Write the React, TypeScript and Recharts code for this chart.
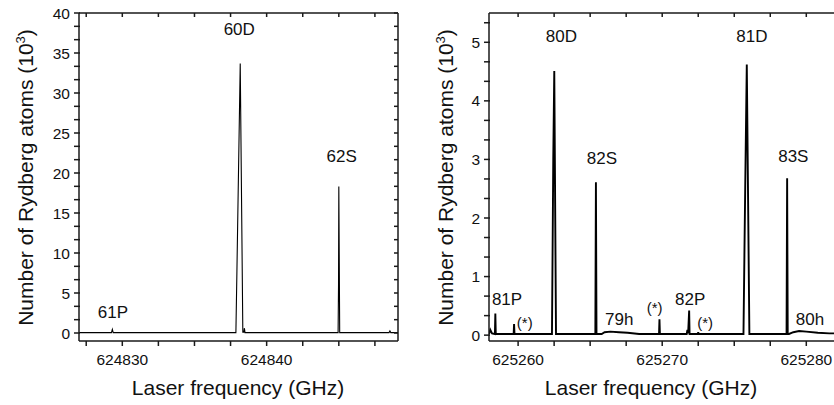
import { LineChart, Line, XAxis, YAxis, ReferenceDot, ReferenceLine } from "recharts";

const FONT = '"Liberation Sans", Arial, Helvetica, sans-serif';
const INK = "#111";
const FRAME = "#1a1a1a";

// ── left panel: 60D / 62S scan ──────────────────────────────────────────────
const LEFT_FREQ = [
  624827.0, 624829.25, 624829.31, 624829.37, 624837.87, 624837.94, 624838.17, 624838.35, 624838.42,
  624838.46, 624838.5, 624844.95, 624844.98, 624845.0, 624845.06, 624848.48, 624848.54, 624848.6, 624849.1,
];
const LEFT_ATOMS = [
  0.05, 0.05, 0.45, 0.05, 0.05, 7.7, 33.7, 0.1, 0.1, 0.6, 0.05, 0.05, 6, 18.3, 0.05, 0.05, 0.25, 0.05, 0.05,
];
const LEFT_X_TICKS = [624827.5, 624830, 624832.5, 624835, 624837.5, 624840, 624842.5, 624845, 624847.5];
const LEFT_X_MAJOR = [624830, 624840];
const LEFT_Y_MAJOR = [0, 5, 10, 15, 20, 25, 30, 35, 40];
const LEFT_NOTES = [
  { text: "61P", x: 624829.35, y: 1.84 },
  { text: "60D", x: 624838.1, y: 37.2 },
  { text: "62S", x: 624845.2, y: 21.4 },
];

// ── right panel: 80D … 83S scan ─────────────────────────────────────────────
const RIGHT_FREQ = [
  625257.98, 625258.07, 625258.19, 625258.39, 625258.42, 625258.45, 625259.69, 625259.72, 625259.75,
  625262.35, 625262.44, 625262.51, 625262.63, 625265.36, 625265.4, 625265.44, 625265.8, 625266.0,
  625266.4, 625267.0, 625267.6, 625268.4, 625269.78, 625269.81, 625269.84, 625271.7, 625271.75,
  625271.8, 625271.87, 625271.9, 625272.47, 625272.5, 625272.53, 625275.64, 625275.76, 625275.87,
  625276.05, 625278.63, 625278.67, 625278.71, 625278.8, 625279.1, 625279.5, 625280.0, 625280.8,
  625281.6, 625282.2,
];
const RIGHT_ATOMS = [
  0.02, 0.09, 0.03, 0.02, 0.37, 0.02, 0.02, 0.19, 0.02,
  0.02, 3.0, 4.51, 0.02, 0.02, 2.61, 0.02, 0.02, 0.05,
  0.06, 0.05, 0.04, 0.02, 0.02, 0.27, 0.02, 0.02, 0.09,
  0.03, 0.42, 0.02, 0.02, 0.05, 0.02, 0.02, 2.5, 4.62,
  0.02, 0.02, 2.68, 0.02, 0.02, 0.05, 0.07, 0.06, 0.04,
  0.03, 0.03,
];
const RIGHT_X_TICKS = [625260, 625262.5, 625265, 625267.5, 625270, 625272.5, 625275, 625277.5, 625280];
const RIGHT_X_MAJOR = [625260, 625270, 625280];
const RIGHT_Y_MAJOR = [0, 1, 2, 3, 4, 5];
const RIGHT_NOTES = [
  { text: "81P", x: 625259.23, y: 0.51 },
  { text: "(*)", x: 625260.46, y: 0.12, small: true },
  { text: "80D", x: 625263.0, y: 5.0 },
  { text: "82S", x: 625265.82, y: 2.93 },
  { text: "79h", x: 625267.02, y: 0.18 },
  { text: "(*)", x: 625269.48, y: 0.38, small: true },
  { text: "82P", x: 625271.94, y: 0.51 },
  { text: "(*)", x: 625272.98, y: 0.12, small: true },
  { text: "81D", x: 625276.22, y: 5.01 },
  { text: "83S", x: 625279.1, y: 2.96 },
  { text: "80h", x: 625280.26, y: 0.17 },
];

const rows = (f: number[], a: number[]) => f.map((x, i) => ({ x, y: a[i] }));

// majors plus evenly split minor ticks, clipped to the axis range
function withMinor(major: number[], parts: number, lo: number, hi: number) {
  const step = (major[1] - major[0]) / parts;
  const out: number[] = [];
  for (let i = -parts; i <= (major.length - 1) * parts + parts; i++) {
    const v = Number((major[0] + i * step).toFixed(6));
    if (v >= lo && v <= hi) out.push(v);
  }
  return out;
}

const isMajor = (major: number[], v: number) => major.some((m) => Math.abs(m - v) < 1e-6);

type Note = { text: string; x: number; y: number; small?: boolean };

const TOP = 13;
const Y_AXIS_W = 79;
const X_AXIS_H = 64;

function Panel(props: {
  width: number;
  marginRight: number;
  data: { x: number; y: number }[];
  xDomain: [number, number];
  yDomain: [number, number];
  xTicks: number[];
  xMajor: number[];
  yTicks: number[];
  yMajor: number[];
  notes: Note[];
  stroke: number;
}) {
  const { width, marginRight, data, xDomain, yDomain, xTicks, xMajor, yTicks, yMajor, notes, stroke } = props;
  const plotRight = width - marginRight;

  // outward ticks on bottom/left, short inward ones mirrored on top/right
  const xTick = (p: any) => {
    const v = p.payload.value;
    return (
      <g>
        <line x1={p.x} x2={p.x} y1={p.y} y2={p.y + 5} stroke={FRAME} strokeWidth={1.5} />
        <line x1={p.x} x2={p.x} y1={TOP} y2={TOP + 4} stroke={FRAME} strokeWidth={1.5} />
        {isMajor(xMajor, v) && (
          <text x={p.x} y={p.y + 24} textAnchor="middle" fontSize={15.5} fontFamily={FONT} fill={INK}>
            {v}
          </text>
        )}
      </g>
    );
  };

  const yTick = (p: any) => {
    const v = p.payload.value;
    return (
      <g>
        <line x1={p.x - 5} x2={p.x + 1} y1={p.y} y2={p.y} stroke={FRAME} strokeWidth={1.5} />
        <line x1={plotRight - 4} x2={plotRight} y1={p.y} y2={p.y} stroke={FRAME} strokeWidth={1.5} />
        {isMajor(yMajor, v) && (
          <text x={p.x - 9} y={p.y} dy="0.355em" textAnchor="end" fontSize={15.5} fontFamily={FONT} fill={INK}>
            {v}
          </text>
        )}
      </g>
    );
  };

  return (
    <LineChart width={width} height={405} data={data} margin={{ top: TOP, right: marginRight, bottom: 0, left: 0 }}>
      <XAxis
        dataKey="x"
        type="number"
        domain={xDomain}
        allowDataOverflow
        ticks={xTicks}
        interval={0}
        tick={xTick}
        tickLine={false}
        tickSize={0}
        tickMargin={0}
        height={X_AXIS_H}
        axisLine={{ stroke: FRAME, strokeWidth: 1.5 }}
      />
      <YAxis
        type="number"
        domain={yDomain}
        allowDataOverflow
        ticks={yTicks}
        interval={0}
        tick={yTick}
        tickLine={false}
        tickSize={0}
        tickMargin={0}
        width={Y_AXIS_W}
        axisLine={{ stroke: FRAME, strokeWidth: 1.5 }}
      />
      <ReferenceLine x={xDomain[1]} stroke={FRAME} strokeWidth={1.5} ifOverflow="visible" />
      <ReferenceLine y={yDomain[1]} stroke={FRAME} strokeWidth={1.5} ifOverflow="visible" />
      <Line dataKey="y" type="linear" stroke="#000" strokeWidth={stroke} dot={false} isAnimationActive={false} />
      {notes.map((n, i) => (
        <ReferenceDot
          key={i}
          x={n.x}
          y={n.y}
          r={0}
          shape={(p: any) => (
            <text x={p.cx} y={p.cy} textAnchor="middle" fontSize={n.small ? 15 : 17} fontFamily={FONT} fill={INK}>
              {n.text}
            </text>
          )}
        />
      ))}
    </LineChart>
  );
}

const titleStyle = {
  position: "absolute" as const,
  fontFamily: FONT,
  fontSize: 21,
  lineHeight: "21px",
  color: INK,
  textAlign: "center" as const,
  whiteSpace: "nowrap" as const,
};

// horizontal title, centred on cx with its baseline near y = 394
const XTitle = ({ cx }: { cx: number }) => (
  <div style={{ ...titleStyle, left: cx - 150, top: 376.7, width: 300 }}>Laser frequency (GHz)</div>
);

// vertical title, baseline at x, centred on cy
const YTitle = ({ x, cy }: { x: number; cy: number }) => (
  <div
    style={{
      ...titleStyle,
      left: x - 7.3 - 160,
      top: cy - 10.5,
      width: 320,
      height: 21,
      transform: "rotate(-90deg)",
    }}
  >
    Number of Rydberg atoms (10
    <span style={{ fontSize: 13, position: "relative", top: -8 }}>3</span>)
  </div>
);

export default function App() {
  return (
    <div style={{ position: "fixed", left: 0, top: 0, width: 834, height: 405, overflow: "hidden", background: "#fff" }}>
      <div style={{ position: "absolute", left: 0, top: 0 }}>
        <Panel
          width={410}
          marginRight={12}
          data={rows(LEFT_FREQ, LEFT_ATOMS)}
          xDomain={[624827.0, 624849.1]}
          yDomain={[-1, 40]}
          xTicks={LEFT_X_TICKS}
          xMajor={LEFT_X_MAJOR}
          yTicks={withMinor(LEFT_Y_MAJOR, 3, -1, 40)}
          yMajor={LEFT_Y_MAJOR}
          notes={LEFT_NOTES}
          stroke={1.1}
        />
      </div>
      <div style={{ position: "absolute", left: 410, top: 0 }}>
        <Panel
          width={434}
          marginRight={6}
          data={rows(RIGHT_FREQ, RIGHT_ATOMS)}
          xDomain={[625257.98, 625282.2]}
          yDomain={[-0.1, 5.5]}
          xTicks={RIGHT_X_TICKS}
          xMajor={RIGHT_X_MAJOR}
          yTicks={withMinor(RIGHT_Y_MAJOR, 3, -0.1, 5.5)}
          yMajor={RIGHT_Y_MAJOR}
          notes={RIGHT_NOTES}
          stroke={1.9}
        />
      </div>
      <XTitle cx={238} />
      <XTitle cx={651} />
      <YTitle x={32} cy={177} />
      <YTitle x={452} cy={177} />
    </div>
  );
}
